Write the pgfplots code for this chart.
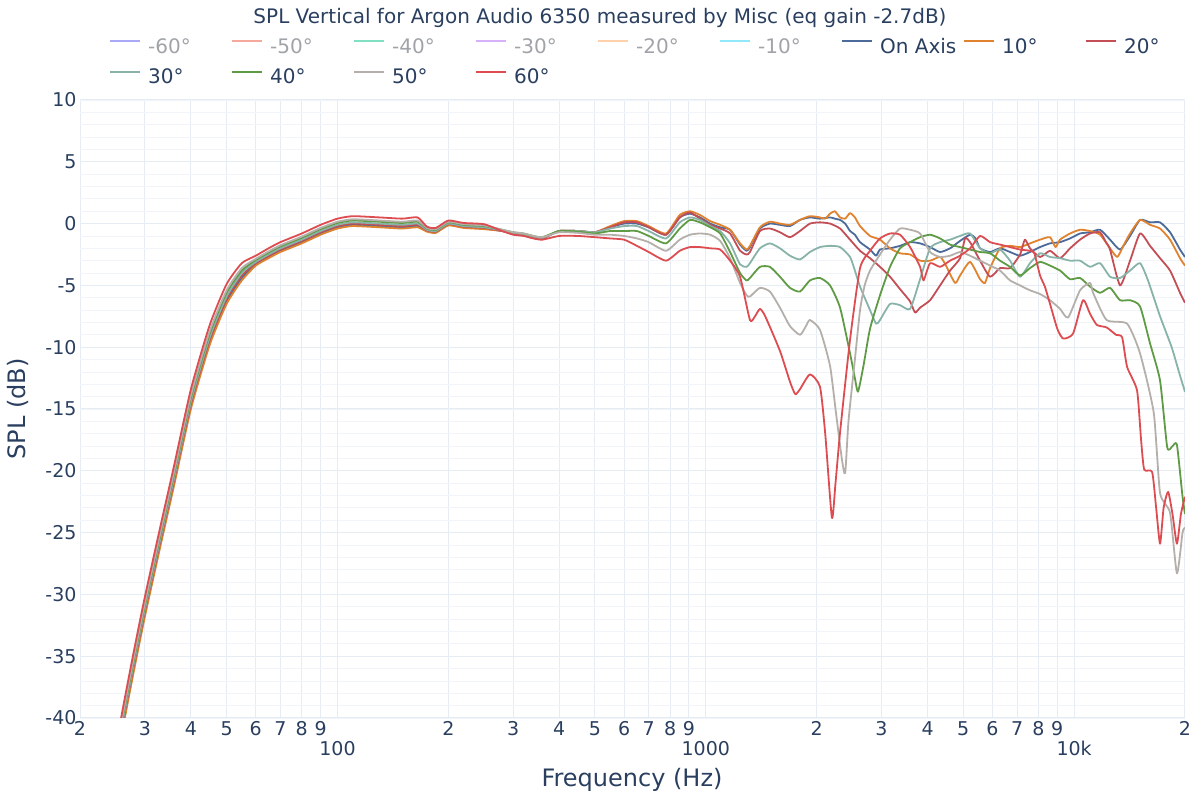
\documentclass[border=0pt]{standalone}
\usepackage{fontspec}
\setmainfont{DejaVu Sans}
\usepackage{pgfplots}
\pgfplotsset{compat=1.18}
\definecolor{txt}{HTML}{2A3F5F}
\definecolor{hid}{HTML}{A0A3A8}
\definecolor{gridmaj}{HTML}{E6ECF3}
\definecolor{gridmin}{HTML}{F1F4F8}
\definecolor{cOn}{HTML}{4C6A9A}
\definecolor{c10}{HTML}{E0822E}
\definecolor{c20}{HTML}{C44E56}
\definecolor{c30}{HTML}{88B3A9}
\definecolor{c40}{HTML}{5F9B44}
\definecolor{c50}{HTML}{B4AFAA}
\definecolor{c60}{HTML}{DD4C50}
\definecolor{h60}{HTML}{A9A9F7}
\definecolor{h50}{HTML}{F5A99C}
\definecolor{h40}{HTML}{80E0C2}
\definecolor{h30}{HTML}{D6B1F9}
\definecolor{h20}{HTML}{FFD0AA}
\definecolor{h10}{HTML}{90E8F8}
\newcommand{\LH}[1]{\makebox[83pt][l]{\strut\textcolor{hid}{#1}}}
\newcommand{\LV}[1]{\makebox[83pt][l]{\strut\textcolor{txt}{#1}}}
\begin{document}
\begin{tikzpicture}[x=1pt,y=1pt]
\useasboundingbox (0,0) rectangle (1200,800);
\node[font=\fontsize{20}{24}\selectfont, text=txt] at (600,782) {SPL Vertical for Argon Audio 6350 measured by Misc (eq gain -2.7dB)};
\begin{axis}[
  at={(80pt,82pt)}, anchor=south west, scale only axis,
  width=1105pt, height=618pt,
  xmode=log, xmin=20, xmax=20000, ymin=-40, ymax=10,
  axis line style={draw=none}, tick style={draw=none},
  xtick={20,30,40,50,60,70,80,90,200,300,400,500,600,700,800,900,2000,3000,4000,5000,6000,7000,8000,9000,20000},
  xticklabels={2,3,4,5,6,7,8,9,2,3,4,5,6,7,8,9,2,3,4,5,6,7,8,9,2},
  minor xtick={},
  extra x ticks={100,1000,10000},
  extra x tick labels={100,1000,10k},
  extra x tick style={tick label style={yshift=-20pt}, grid=major},
  ytick={-40,-35,-30,-25,-20,-15,-10,-5,0,5,10},
  yticklabels={-40,-35,-30,-25,-20,-15,-10,-5,0,5,10},
  minor ytick={-40,-39,...,10},
  xmajorgrids, ymajorgrids, yminorgrids,
  major grid style={color=gridmaj, line width=1pt},
  minor grid style={color=gridmin, line width=0.8pt},
  tick label style={font=\fontsize{19}{22}\selectfont, text=txt},
  no markers,
  legend columns=9,
  legend image code/.code={\draw[#1, line width=2pt] (0pt,0.45em) -- (30pt,0.45em);},
  legend style={draw=none, fill=none, at={(0.0262,1.1027)}, anchor=north west,
    font=\fontsize{20}{24}\selectfont, inner sep=0pt, nodes={inner sep=0pt},
    /tikz/every odd column/.append style={column sep=7pt},
    /tikz/every even column/.append style={column sep=0pt},
    /tikz/row sep=12pt},
  legend cell align=left,
  every axis plot/.append style={line width=1.8pt, line join=round, smooth, tension=0.35},
]
\addlegendimage{color=h60} \addlegendentry{\LH{-60°}}
\addlegendimage{color=h50} \addlegendentry{\LH{-50°}}
\addlegendimage{color=h40} \addlegendentry{\LH{-40°}}
\addlegendimage{color=h30} \addlegendentry{\LH{-30°}}
\addlegendimage{color=h20} \addlegendentry{\LH{-20°}}
\addlegendimage{color=h10} \addlegendentry{\LH{-10°}}
% On Axis
\addplot[color=cOn] coordinates {
(25,-44.0)(26,-41.0)(28,-36.0)(30,-31.6)(33,-26.0)(36,-21.0)(40,-14.8)(45,-9.6)(50,-6.3)(55,-4.4)(60,-3.3)(65,-2.7)(70,-2.2)(80,-1.5)(90,-0.8)(100,-0.3)(110,-0.1)(130,-0.2)(150,-0.3)(165,-0.2)(175,-0.6)(185,-0.7)(200,-0.1)(220,-0.3)(250,-0.4)(280,-0.6)(300,-0.8)(320,-0.9)(340,-1.1)(360,-1.2)(400,-0.6)(450,-0.6)(500,-0.7)(550,-0.3)(600,0.0)(650,0.0)(700,-0.3)(780,-0.9)
(850,0.5)(906,0.8)(964,0.5)(1028,0.0)(1094,-0.3)(1164,-0.5)(1239,-1.7)(1290,-2.2)(1318,-1.9)(1403,-0.4)(1493,0.0)(1590,-0.1)(1693,-0.2)(1802,0.3)(1918,0.5)(2042,0.4)(2174,0.5)(2240,0.4)(2315,0.3)(2390,0.0)(2464,-0.6)(2540,-0.9)(2623,-1.5)(2792,-2.1)(2900,-2.6)(2972,-2.1)(3164,-2.0)(3368,-1.8)(3587,-1.5)(3818,-1.6)(4064,-1.9)(4326,-2.3)(4605,-2.0)(4902,-1.4)(5218,-0.9)(5400,-1.2)(5555,-2.0)(5913,-2.3)(6294,-2.0)(6700,-2.3)(7132,-2.6)(7592,-2.3)(8082,-1.9)(8603,-1.6)(9158,-1.5)(9749,-1.2)(10378,-0.8)(11047,-0.7)(11760,-0.5)(12519,-1.3)(13327,-2.1)(14186,-1.0)(15102,0.3)(16076,0.1)(17113,0.1)(18217,-0.7)(19392,-2.1)(20000,-2.7)
};
\addlegendentry{\LV{On Axis}}
% 10 deg
\addplot[color=c10] coordinates {
(25,-44.2)(26,-41.2)(28,-36.2)(30,-31.8)(33,-26.2)(36,-21.2)(40,-15.0)(45,-9.8)(50,-6.5)(55,-4.6)(60,-3.4)(65,-2.8)(70,-2.3)(80,-1.6)(90,-0.9)(100,-0.4)(110,-0.2)(130,-0.3)(150,-0.4)(165,-0.3)(175,-0.65)(185,-0.75)(200,-0.15)(220,-0.35)(250,-0.45)(280,-0.6)(300,-0.8)(320,-0.9)(340,-1.1)(360,-1.2)(400,-0.6)(450,-0.6)(500,-0.7)(550,-0.2)(600,0.2)(650,0.2)(700,-0.2)(780,-0.8)
(850,0.7)(906,1.0)(964,0.7)(1028,0.2)(1094,-0.1)(1164,-0.5)(1239,-1.6)(1290,-2.1)(1318,-1.8)(1403,-0.3)(1493,0.15)(1590,0.0)(1693,-0.1)(1802,0.3)(1918,0.6)(2042,0.5)(2110,0.4)(2174,0.8)(2240,1.0)(2315,0.5)(2390,0.4)(2464,0.85)(2540,0.5)(2623,-0.2)(2792,-1.0)(2972,-1.3)(3164,-2.0)(3368,-2.4)(3587,-2.5)(3818,-3.0)(4064,-3.0)(4326,-2.7)(4470,-3.3)(4750,-4.8)(4902,-4.2)(5218,-3.1)(5555,-4.5)(5730,-4.8)(5913,-3.6)(6294,-2.0)(6700,-1.8)(7132,-1.9)(7592,-1.6)(8082,-1.3)(8603,-1.1)(8900,-1.9)(9158,-1.3)(9749,-0.8)(10378,-0.5)(11047,-0.6)(11760,-0.9)(12519,-2.0)(13100,-2.7)(13600,-1.8)(14186,-0.8)(15102,0.3)(16076,-0.1)(17113,-0.4)(18217,-1.3)(19392,-2.8)(20000,-3.4)
};
\addlegendentry{\LV{10°}}
% 20 deg
\addplot[color=c20] coordinates {
(25,-43.8)(26,-40.8)(28,-35.8)(30,-31.4)(33,-25.8)(36,-20.8)(40,-14.6)(45,-9.4)(50,-6.1)(55,-4.2)(60,-3.2)(65,-2.6)(70,-2.1)(80,-1.4)(90,-0.7)(100,-0.2)(110,0.0)(130,-0.1)(150,-0.2)(165,-0.1)(175,-0.55)(185,-0.65)(200,-0.05)(220,-0.25)(250,-0.35)(280,-0.6)(300,-0.8)(320,-0.9)(340,-1.1)(360,-1.2)(400,-0.6)(450,-0.6)(500,-0.7)(550,-0.3)(600,0.1)(650,0.1)(700,-0.3)(780,-0.9)
(850,0.5)(906,0.9)(964,0.4)(1028,-0.1)(1094,-0.4)(1164,-0.8)(1239,-2.2)(1290,-2.5)(1318,-2.3)(1403,-0.6)(1493,-0.4)(1590,-0.7)(1693,-1.1)(1802,-0.6)(1918,0.0)(2042,0.1)(2174,0.0)(2315,-0.4)(2464,-1.3)(2623,-2.2)(2792,-2.8)(2972,-3.5)(3164,-4.3)(3368,-5.3)(3587,-6.3)(3700,-7.2)(3818,-6.8)(4064,-6.2)(4326,-5.0)(4605,-3.8)(4902,-2.8)(5060,-1.2)(5218,-1.5)(5555,-3.0)(5913,-4.3)(6294,-3.6)(6700,-3.6)(7132,-2.5)(7350,-1.3)(7592,-2.0)(8082,-2.7)(8603,-2.2)(9158,-2.8)(9749,-2.0)(10378,-1.3)(11047,-0.8)(11760,-0.7)(12200,-1.5)(12519,-2.1)(13327,-5.0)(14186,-3.0)(15102,-0.8)(16076,-1.8)(17113,-2.8)(18217,-3.8)(19392,-5.6)(20000,-6.4)
};
\addlegendentry{\LV{20°}}
% 30 deg
\addplot[color=c30] coordinates {
(25,-43.6)(26,-40.6)(28,-35.6)(30,-31.2)(33,-25.6)(36,-20.6)(40,-14.4)(45,-9.2)(50,-5.9)(55,-4.0)(60,-3.1)(65,-2.5)(70,-2.0)(80,-1.3)(90,-0.6)(100,-0.1)(110,0.1)(130,0.0)(150,-0.1)(165,0.0)(175,-0.5)(185,-0.6)(200,0.0)(220,-0.2)(250,-0.3)(280,-0.55)(300,-0.75)(320,-0.85)(340,-1.05)(360,-1.15)(400,-0.6)(450,-0.6)(500,-0.7)(550,-0.4)(600,-0.2)(650,-0.2)(700,-0.6)(780,-1.2)
(850,0.1)(906,0.5)(964,0.3)(1028,-0.2)(1094,-0.6)(1164,-1.6)(1239,-3.3)(1290,-3.5)(1318,-3.2)(1403,-2.0)(1493,-1.6)(1590,-2.0)(1693,-2.6)(1802,-2.9)(1918,-2.3)(2042,-1.9)(2174,-1.8)(2315,-1.9)(2464,-2.7)(2540,-3.8)(2623,-5.1)(2792,-7.0)(2900,-8.1)(2972,-7.8)(3164,-6.5)(3368,-6.6)(3587,-6.9)(3818,-4.5)(4064,-2.0)(4326,-1.5)(4605,-1.3)(4902,-1.0)(5218,-0.8)(5555,-2.0)(5913,-2.4)(6294,-2.1)(6700,-3.0)(7132,-4.3)(7592,-3.2)(8082,-2.4)(8603,-2.7)(9158,-2.8)(9749,-3.0)(10378,-3.0)(11047,-3.5)(11760,-3.2)(12519,-4.3)(13327,-4.4)(14186,-3.8)(15102,-3.2)(15870,-4.6)(17113,-7.5)(18400,-10.0)(19392,-12.3)(20000,-13.6)
};
\addlegendentry{\LV{30°}}
% 40 deg
\addplot[color=c40] coordinates {
(25,-43.3)(26,-40.3)(28,-35.3)(30,-30.9)(33,-25.3)(36,-20.3)(40,-14.1)(45,-8.9)(50,-5.6)(55,-3.8)(60,-2.95)(65,-2.35)(70,-1.85)(80,-1.15)(90,-0.45)(100,0.05)(110,0.25)(130,0.15)(150,0.05)(165,0.15)(175,-0.4)(185,-0.5)(200,0.1)(220,-0.1)(250,-0.2)(280,-0.5)(300,-0.7)(320,-0.8)(340,-1.0)(360,-1.1)(400,-0.6)(450,-0.65)(500,-0.8)(550,-0.6)(600,-0.6)(650,-0.6)(700,-1.0)(780,-1.6)
(850,-0.4)(906,0.3)(964,0.1)(1028,-0.3)(1094,-0.8)(1164,-2.3)(1239,-4.0)(1290,-4.6)(1318,-4.4)(1403,-3.5)(1493,-3.5)(1590,-4.3)(1693,-5.2)(1802,-5.5)(1918,-4.6)(2042,-4.4)(2174,-5.0)(2315,-6.8)(2464,-10.5)(2540,-12.5)(2590,-13.6)(2680,-11.5)(2792,-8.5)(2972,-5.8)(3164,-3.5)(3368,-2.0)(3587,-1.5)(3818,-1.1)(4064,-0.9)(4326,-1.2)(4605,-1.7)(4902,-1.9)(5218,-2.1)(5555,-2.3)(5913,-2.4)(6294,-3.0)(6700,-3.5)(7132,-4.2)(7592,-3.6)(8082,-3.1)(8603,-3.4)(9158,-3.8)(9749,-4.5)(10378,-4.4)(11047,-5.1)(11760,-5.6)(12519,-5.2)(13327,-6.2)(14186,-6.2)(15102,-6.7)(16076,-9.7)(17113,-12.7)(17900,-18.1)(18500,-18.0)(19020,-17.9)(19700,-22.1)(20000,-23.5)
};
\addlegendentry{\LV{40°}}
% 50 deg
\addplot[color=c50] coordinates {
(25,-43.1)(26,-40.1)(28,-35.1)(30,-30.7)(33,-25.1)(36,-20.1)(40,-13.9)(45,-8.7)(50,-5.4)(55,-3.6)(60,-2.85)(65,-2.25)(70,-1.75)(80,-1.05)(90,-0.35)(100,0.15)(110,0.35)(130,0.25)(150,0.15)(165,0.25)(175,-0.35)(185,-0.45)(200,0.15)(220,-0.05)(250,-0.15)(280,-0.5)(300,-0.7)(320,-0.8)(340,-1.0)(360,-1.1)(400,-0.7)(450,-0.75)(500,-0.9)(550,-0.9)(600,-1.0)(650,-1.2)(700,-1.5)(780,-2.2)
(850,-1.3)(906,-0.9)(964,-0.8)(1028,-0.9)(1094,-1.4)(1164,-2.8)(1239,-4.8)(1290,-5.8)(1318,-5.9)(1403,-5.2)(1493,-5.5)(1590,-6.8)(1693,-8.3)(1802,-9.0)(1870,-8.3)(1918,-7.8)(2042,-8.6)(2174,-11.5)(2250,-15.0)(2340,-19.0)(2390,-20.2)(2440,-16.0)(2540,-11.0)(2623,-7.0)(2700,-5.0)(2792,-3.8)(2972,-2.5)(3164,-1.3)(3368,-0.4)(3587,-0.5)(3818,-0.8)(4064,-2.3)(4326,-2.7)(4605,-2.6)(4902,-2.3)(5218,-2.6)(5555,-3.0)(5913,-3.4)(6294,-3.8)(6700,-4.6)(7132,-5.0)(7592,-5.4)(8082,-5.7)(8603,-6.2)(9158,-6.9)(9632,-7.6)(10378,-5.4)(11047,-4.8)(11260,-5.6)(12250,-7.8)(13930,-8.1)(15102,-10.5)(16450,-15.3)(17113,-21.8)(18217,-23.4)(19020,-28.3)(19700,-25.0)(20000,-24.6)
};
\addlegendentry{\LV{50°}}
% 60 deg
\addplot[color=c60] coordinates {
(25,-42.6)(26,-39.6)(28,-34.6)(30,-30.2)(33,-24.6)(36,-19.6)(40,-13.4)(45,-8.2)(50,-4.9)(55,-3.2)(60,-2.6)(65,-2.0)(70,-1.5)(80,-0.8)(90,-0.1)(100,0.4)(110,0.6)(130,0.5)(150,0.4)(165,0.5)(175,-0.25)(185,-0.35)(200,0.25)(220,0.05)(250,-0.05)(280,-0.6)(300,-0.9)(320,-1.0)(340,-1.2)(360,-1.3)(400,-1.0)(450,-1.0)(500,-1.1)(550,-1.2)(600,-1.3)(650,-1.8)(700,-2.3)(780,-3.0)
(850,-2.2)(906,-1.9)(964,-1.9)(1028,-2.0)(1094,-2.1)(1164,-3.0)(1239,-4.3)(1318,-7.8)(1360,-7.5)(1403,-6.9)(1450,-7.5)(1590,-10.3)(1693,-12.8)(1750,-13.8)(1802,-13.4)(1918,-12.2)(2042,-13.2)(2110,-17.0)(2200,-23.8)(2250,-21.0)(2315,-16.9)(2464,-9.4)(2623,-3.6)(2792,-2.2)(2972,-1.2)(3164,-0.8)(3368,-0.9)(3587,-1.9)(3818,-3.5)(3900,-4.6)(4064,-3.2)(4326,-3.5)(4605,-3.0)(4902,-2.6)(5218,-2.0)(5555,-1.0)(5913,-1.5)(6294,-1.7)(6700,-1.9)(7132,-2.1)(7592,-2.2)(7800,-2.4)(8082,-4.2)(8330,-5.1)(8603,-6.5)(9000,-8.5)(9336,-9.3)(9935,-8.9)(10570,-6.2)(11047,-7.3)(11530,-8.2)(12250,-8.4)(13000,-9.0)(13500,-9.2)(13930,-11.6)(14820,-13.5)(15200,-17.5)(15500,-19.9)(16290,-20.1)(16700,-23.0)(17113,-25.9)(17500,-23.0)(18000,-21.7)(18500,-23.5)(19020,-25.9)(19500,-23.5)(20000,-22.1)
};
\addlegendentry{\LV{60°}}
\end{axis}
\node[font=\fontsize{24}{28}\selectfont, text=txt] at (632,20) {Frequency (Hz)};
\node[font=\fontsize{24}{28}\selectfont, text=txt, rotate=90] at (18,391) {SPL (dB)};
\end{tikzpicture}
\end{document}
